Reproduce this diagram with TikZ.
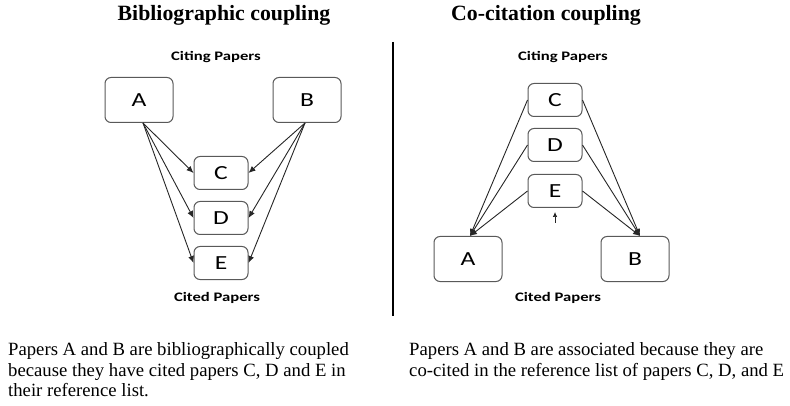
\documentclass[tikz,border=0pt]{standalone}
\usepackage{fontspec}
\usepackage{graphicx}
\setmainfont{Liberation Serif}
\newfontfamily\boxfont{Carlito}
\usetikzlibrary{arrows.meta}
\newcommand{\wide}[1]{\scalebox{1.28}[1]{#1}}

\begin{document}
\begin{tikzpicture}[x=1pt,y=-1pt,
		paper/.style={draw=black!65, line width=1pt, rounded corners=6pt, inner sep=0pt, font=\boxfont\fontsize{20}{24}\selectfont},
		big/.style={paper, minimum width=68pt, minimum height=45pt},
		small/.style={paper, minimum width=54pt, minimum height=33pt},
		label/.style={font=\boxfont\bfseries\fontsize{13}{15}\selectfont},
		cite/.style={->, draw=black!85, line width=0.9pt},
		>={Latex[length=7pt,width=6pt]}]
				\useasboundingbox (0,0) rectangle (790,406);
				\node[anchor=base, font=\bfseries\fontsize{21.8}{25}\selectfont] (t1) at (224,21) {Bibliographic coupling};
				\node[anchor=base, font=\bfseries\fontsize{21.8}{25}\selectfont] (t2) at (546,21) {Co-citation coupling};
				\node[label] (citing1) at (216,57) {\wide{Citing Papers}};
				\node[label] (cited1) at (217,298) {\wide{Cited Papers}};
				\node[label] (citing2) at (563,57) {\wide{Citing Papers}};
				\node[label] (cited2) at (558,298) {\wide{Cited Papers}};
				\node[big] (a1) at (139,100) {\wide{A}};
				\node[big] (b1) at (307,100) {\wide{B}};
				\node[small] (c1) at (221,173) {\wide{C}};
				\node[small] (d1) at (221,218) {\wide{D}};
				\node[small] (e1) at (221,263) {\wide{E}};
				\draw[cite] ([xshift=4pt]a1.south) -- (c1.west);
				\draw[cite] ([xshift=4pt]a1.south) -- (d1.west);
				\draw[cite] ([xshift=4pt]a1.south) -- (e1.west);
				\draw[cite] ([xshift=-2pt]b1.south) -- (c1.east);
				\draw[cite] ([xshift=-2pt]b1.south) -- (d1.east);
				\draw[cite] ([xshift=-2pt]b1.south) -- (e1.east);
				\coordinate (sep1) at (393,42);
				\coordinate (sep2) at (393,316);
				\draw[line width=2pt] (sep1) -- (sep2);
				\node[small] (c2) at (555,100) {\wide{C}};
				\node[small] (d2) at (555,145) {\wide{D}};
				\node[small] (e2) at (555,191) {\wide{E}};
				\node[big] (a2) at (468,259) {\wide{A}};
				\node[big] (b2) at (635,259) {\wide{B}};
				\draw[cite] (c2.west) -- ([xshift=2pt]a2.north);
				\draw[cite] (d2.west) -- ([xshift=2pt]a2.north);
				\draw[cite] (e2.west) -- ([xshift=2pt]a2.north);
				\draw[cite] (c2.east) -- ([xshift=5pt]b2.north);
				\draw[cite] (d2.east) -- ([xshift=5pt]b2.north);
				\draw[cite] (e2.east) -- ([xshift=5pt]b2.north);
				\coordinate (up1) at (555,223);
				\draw[cite, line width=0.7pt, >={Latex[length=5pt,width=4.5pt]}] (up1) -- ++(0,-11);
				\node[anchor=north west, align=left, inner sep=0pt, font=\fontsize{18.7}{20.5}\selectfont] (note1) at (8,342.5) {Papers A and B are bibliographically coupled\\because they have cited papers C, D and E in\\their reference list.};
				\node[anchor=north west, align=left, inner sep=0pt, font=\fontsize{18.7}{20.5}\selectfont] (note2) at (409,342.5) {Papers A and B are associated because they are\\co-cited in the reference list of papers C, D, and E};
\end{tikzpicture}
\end{document}
